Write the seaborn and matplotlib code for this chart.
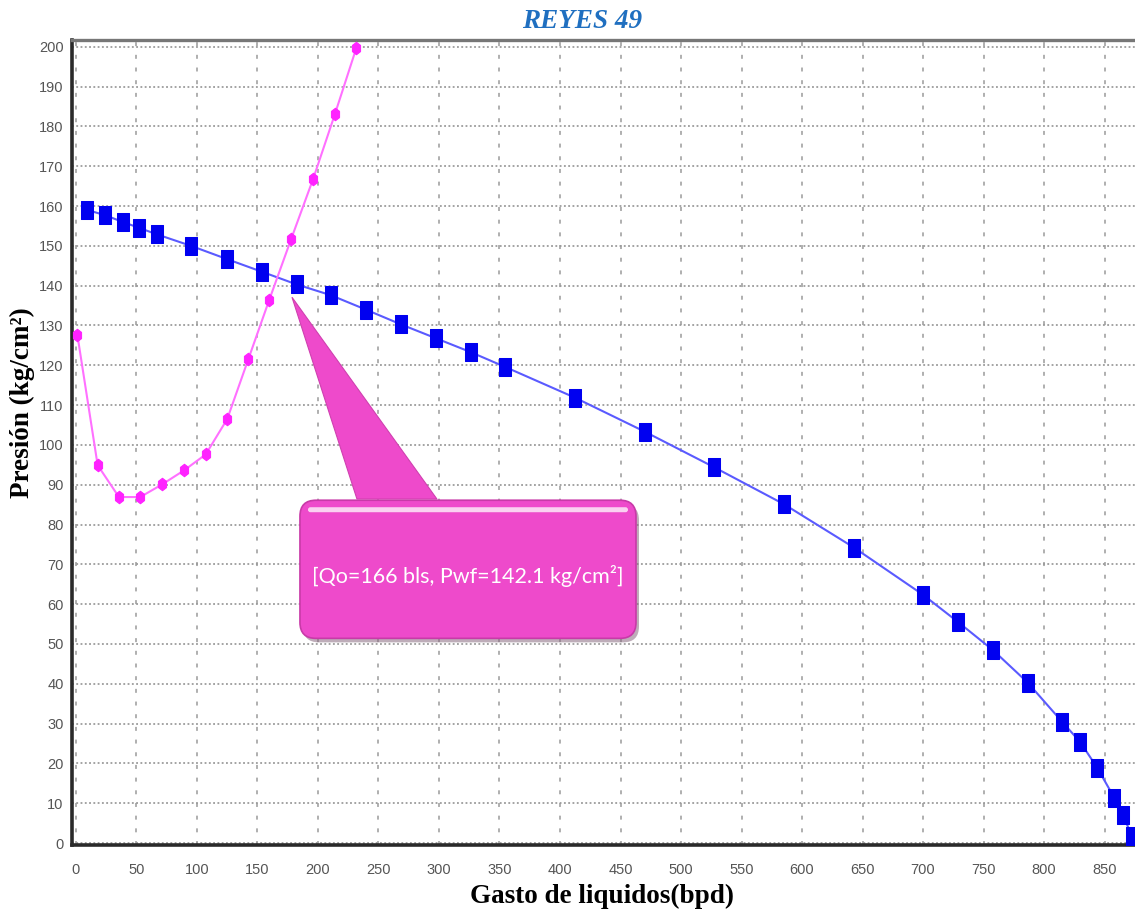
import numpy as np
import pandas as pd
import seaborn as sns
import matplotlib.pyplot as plt
from matplotlib.path import Path
from matplotlib.patches import FancyBboxPatch, Polygon
from matplotlib.transforms import IdentityTransform

# curva IPR (pozo) - cuadros azules
ipr_q = [9.3, 24, 38.6, 52.3, 66.7, 95, 124.5, 153.5, 182.4, 210.6, 239.4, 268.3,
         297.3, 326.2, 354.5, 412.1, 470.2, 527.3, 585.1, 643, 699.8, 729, 758,
         786.5, 815.1, 829.8, 844, 858, 865.5, 872.5]
ipr_p = [159.0, 157.7, 156.0, 154.5, 152.9, 150.0, 146.7, 143.5, 140.3, 137.6, 134.0,
         130.3, 126.8, 123.3, 119.6, 111.9, 103.3, 94.4, 85.1, 74.2, 62.4, 55.5, 48.4,
         40.3, 30.4, 25.4, 18.9, 11.4, 7.0, 1.7]

# curva VLP (tuberia) - rosa
vlp_q = [1.1, 17.9, 35.5, 53.1, 71.3, 89.3, 107.2, 125.0, 142.4, 159.8, 177.7,
         196.1, 214.0, 231.7]
vlp_p = [127.7, 94.9, 86.9, 86.9, 90.1, 93.6, 97.6, 106.5, 121.5, 136.5, 151.6,
         166.9, 183.1, 199.7]

x_ticks = list(range(0, 851, 50))
y_ticks = list(range(0, 201, 10))

titulo = "REYES 49"
etiqueta_x = "Gasto de liquidos(bpd)"
etiqueta_y = "Presión (kg/cm²)"
texto_caja = "[Qo=166 bls, Pwf=142.1 kg/cm²]"

sns.set_theme(style="white")
plt.rcParams['font.family'] = ['DejaVu Sans']

fig = plt.figure(figsize=(11.35, 9.13), dpi=100)
W, H = 1135, 913
ax = fig.add_axes([72 / W, (H - 845) / H, 1 - 72 / W, (845 - 40) / H])

# marcadores: rectangulo vertical y hexagono vertical
rect = Path([(-0.7, -1), (0.7, -1), (0.7, 1), (-0.7, 1), (-0.7, -1)],
            [Path.MOVETO, Path.LINETO, Path.LINETO, Path.LINETO, Path.CLOSEPOLY])
hexa = Path([(0, 1), (0.65, 0.5), (0.65, -0.5), (0, -1), (-0.65, -0.5), (-0.65, 0.5), (0, 1)],
            [Path.MOVETO] + [Path.LINETO] * 5 + [Path.CLOSEPOLY])

df_ipr = pd.DataFrame({"q": ipr_q, "p": ipr_p})
df_vlp = pd.DataFrame({"q": vlp_q, "p": vlp_p})

sns.lineplot(data=df_ipr, x="q", y="p", ax=ax, color="#5a5aff", lw=1.5,
             marker=rect, markersize=13, markerfacecolor="#0000f0",
             markeredgecolor="#0000f0", sort=False, estimator=None, zorder=5)
sns.lineplot(data=df_vlp, x="q", y="p", ax=ax, color="#ff70ff", lw=1.5,
             marker=hexa, markersize=9, markerfacecolor="#ff22ff",
             markeredgecolor="#ff22ff", sort=False, estimator=None, zorder=5)

ax.set_xlim(-3.3, 875.2)
ax.set_ylim(-0.5, 201.7)
ax.set_xticks(x_ticks)
ax.set_yticks(y_ticks)
ax.set_xticks(range(0, 871, 10), minor=True)
ax.set_xlabel("")
ax.set_ylabel("")

# cuadricula: punteada horizontal, discontinua vertical
ax.grid(False)
for yv in y_ticks:
    ax.axhline(yv, color="#8a8a8a", lw=1.1, ls=(0, (1.2, 1.6)), zorder=1)
for xv in x_ticks:
    ax.axvline(xv, color="#9a9a9a", lw=1.1, ls=(0, (2.6, 5.7)), zorder=1)

for s in ["left", "bottom"]:
    ax.spines[s].set_color("#2a2a2a")
    ax.spines[s].set_linewidth(2.6)
ax.spines["top"].set_color("#777777")
ax.spines["top"].set_linewidth(2.4)
ax.spines["right"].set_visible(False)

ax.tick_params(axis="both", which="major", length=4, width=1.2, color="#555555",
               labelcolor="#555555", labelsize=10.5)
ax.tick_params(axis="y", which="major", pad=2)
ax.tick_params(axis="x", which="major", pad=9)
ax.tick_params(axis="x", which="minor", length=3, width=1, color="#444444",
               direction="out")
for lab in ax.get_xticklabels() + ax.get_yticklabels():
    lab.set_family(["Liberation Sans Narrow", "Liberation Sans", "DejaVu Sans"])

serif = ["Liberation Serif", "DejaVu Serif"]
fig.text(602 / W, 1 - 896 / H, etiqueta_x, ha="center", va="center", fontsize=19.5,
         fontweight="bold", family=serif, color="black")
fig.text(22 / W, 1 - 403 / H, etiqueta_y, ha="center", va="center", fontsize=19.5,
         fontweight="bold", family=serif, color="black", rotation=90)
fig.text(582 / W, 1 - 21 / H, titulo, ha="center", va="center", fontsize=19.5,
         fontweight="bold", fontstyle="italic", color="#1f6fc0", family=serif)

# globo de texto (callout) en coordenadas de datos
fig.canvas.draw()
tr = ax.transData
bx0, by0 = tr.transform((185.1, 51.4))
bx1, by1 = tr.transform((462.8, 86.1))
sombra = FancyBboxPatch((bx0 + 3, by0 - 4), bx1 - bx0, by1 - by0,
                        boxstyle="round,pad=0,rounding_size=16",
                        transform=IdentityTransform(), fc="#8a6a80", ec="none",
                        alpha=0.55, zorder=6)
caja = FancyBboxPatch((bx0, by0), bx1 - bx0, by1 - by0,
                      boxstyle="round,pad=0,rounding_size=16",
                      transform=IdentityTransform(), fc="#ee4acb", ec="#c83aa8",
                      lw=1.2, zorder=7)
brillo = FancyBboxPatch((bx0 + 8, by1 - 12), bx1 - bx0 - 16, 5,
                        boxstyle="round,pad=0,rounding_size=2.5",
                        transform=IdentityTransform(), fc="white", ec="none",
                        alpha=0.75, zorder=8)
punta = Polygon([tr.transform((178.5, 137.1)), tr.transform((232.2, 86.4)),
                 tr.transform((298.3, 86.4))], closed=True,
                transform=IdentityTransform(), fc="#ee4acb", ec="#d040b0",
                lw=0.8, zorder=9)
for p in (sombra, caja, brillo, punta):
    fig.add_artist(p)
tx, ty = tr.transform((323.9, 67.0))
fig.text(tx / W, ty / H, texto_caja, ha="center", va="center", fontsize=15.5,
         color="white", family=["Lato", "DejaVu Sans"], zorder=10)

fig.savefig("out.png", dpi=100)
